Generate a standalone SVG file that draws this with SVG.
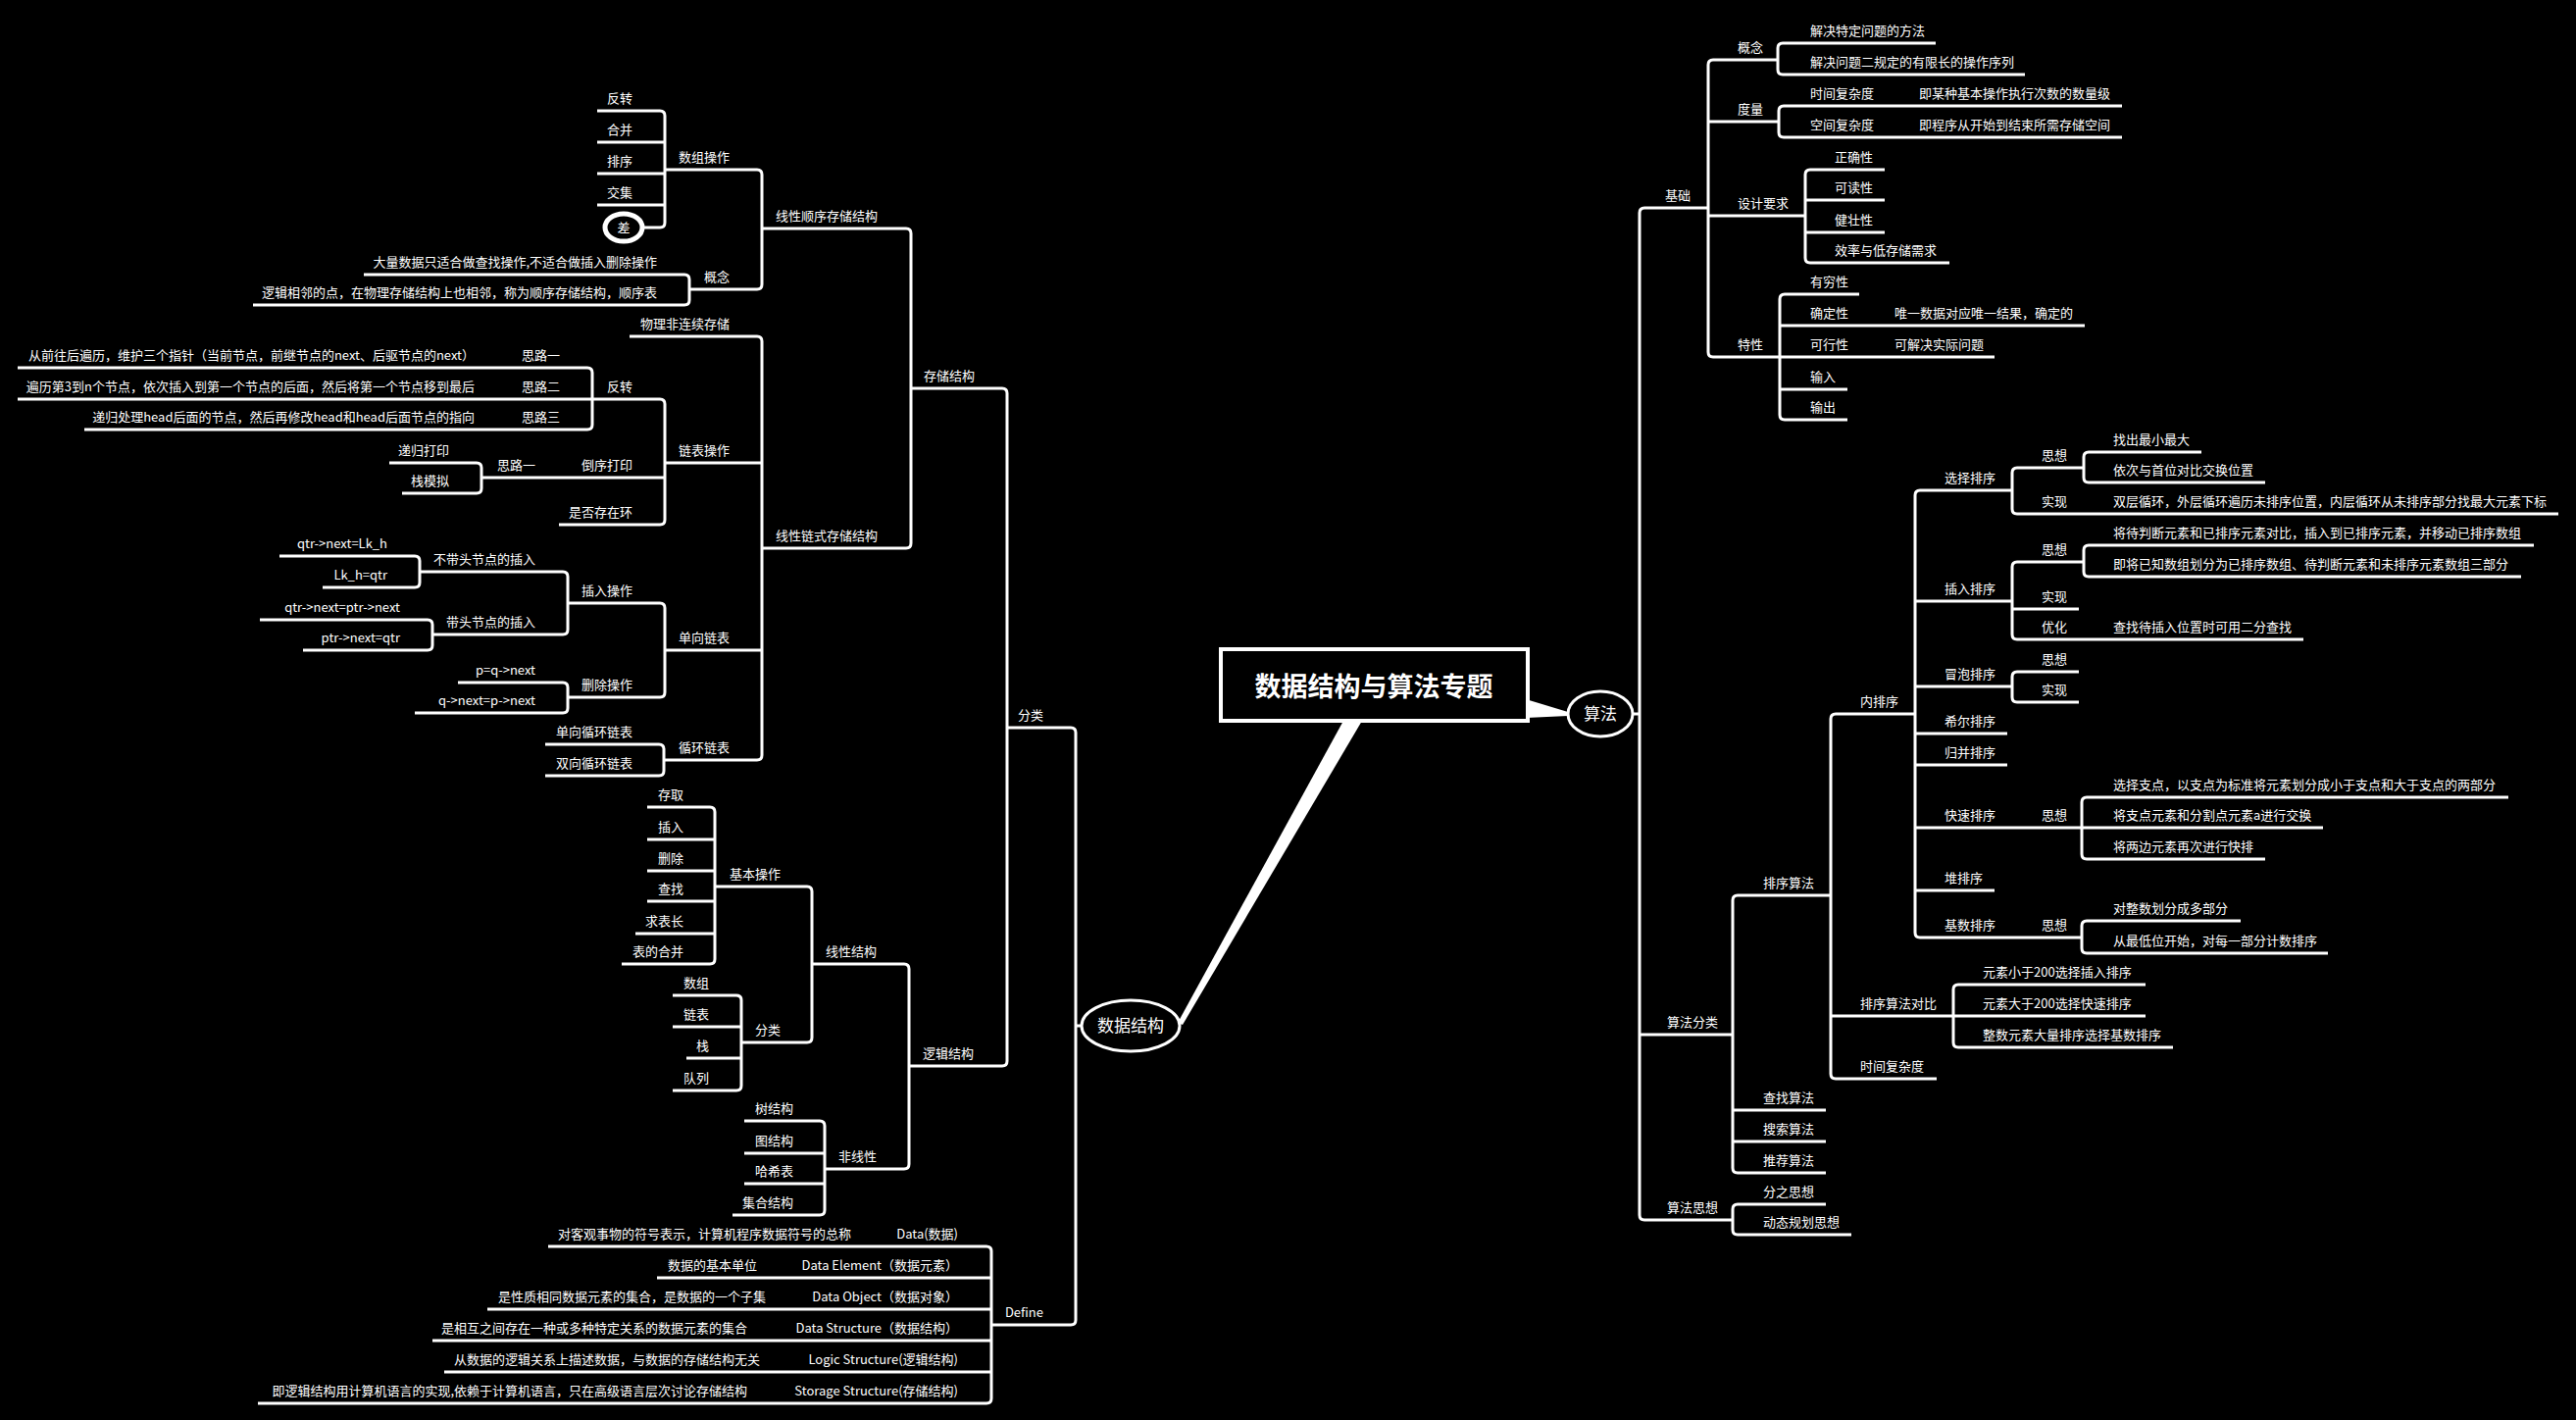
<svg xmlns="http://www.w3.org/2000/svg" width="2627" height="1448" viewBox="0 0 2627 1448">
<style>
text{font-family:"Noto Sans CJK SC","Noto Sans",sans-serif;font-size:13px;fill:#fff}
.l{text-anchor:end}
.r{text-anchor:start}
.c{text-anchor:middle}
.ln{fill:none;stroke:#fff;stroke-width:3}
.wedge{fill:#fff;stroke:none}
.title{font-size:27px;font-weight:bold}
.big{font-size:17px}
.oval{fill:#000;stroke:#fff;stroke-width:3}
</style>
<rect width="2627" height="1448" fill="#000"/>
<g id="connectors">
<polygon class="wedge" points="1556,713 1599,726 1599,730 1556,732"/>
<polygon class="wedge" points="1370,735 1389,735 1206,1045 1201,1043"/>
<path class="ln" d="M1097,1046 H1104"/>
<path class="ln" d="M1027,742 H1092 Q1097,742 1097,747 V1346 Q1097,1351 1092,1351 H1011"/>
<path class="ln" d="M929,396 H1022 Q1027,396 1027,401 V1082 Q1027,1087 1022,1087 H927"/>
<path class="ln" d="M777,233 H924 Q929,233 929,238 V554 Q929,559 924,559 H777"/>
<path class="ln" d="M828,983 H922 Q927,983 927,988 V1187 Q927,1192 922,1192 H841"/>
<path class="ln" d="M678,173 H772 Q777,173 777,178 V290 Q777,295 772,295 H703"/>
<path class="ln" d="M609,113 H673 Q678,113 678,118 V227 Q678,232 673,232 H656"/>
<path class="ln" d="M609,145 H678 M609,177 H678 M609,209 H678"/>
<path class="ln" d="M371,280 H698 Q703,280 703,285 V306 Q703,311 698,311 H258"/>
<path class="ln" d="M642,343 H772 Q777,343 777,348 V770 Q777,775 772,775 H678"/>
<path class="ln" d="M678,472 H777 M678,663 H777"/>
<path class="ln" d="M604,407 H673 Q678,407 678,412 V530 Q678,535 673,535 H570"/>
<path class="ln" d="M491,487 H678"/>
<path class="ln" d="M18,375 H599 Q604,375 604,380 V433 Q604,438 599,438 H86"/>
<path class="ln" d="M18,407 H604"/>
<path class="ln" d="M397,472 H486 Q491,472 491,477 V498 Q491,503 486,503 H410"/>
<path class="ln" d="M579,615 H673 Q678,615 678,620 V706 Q678,711 673,711 H579"/>
<path class="ln" d="M428,583 H574 Q579,583 579,588 V642 Q579,647 574,647 H441"/>
<path class="ln" d="M285,567 H423 Q428,567 428,572 V594 Q428,599 423,599 H329"/>
<path class="ln" d="M265,632 H436 Q441,632 441,637 V658 Q441,663 436,663 H309"/>
<path class="ln" d="M467,696 H574 Q579,696 579,701 V722 Q579,727 574,727 H423"/>
<path class="ln" d="M556,759 H672 Q677,759 677,764 V786 Q677,791 672,791 H556"/>
<path class="ln" d="M729,904 H823 Q828,904 828,909 V1058 Q828,1063 823,1063 H756"/>
<path class="ln" d="M660,823 H724 Q729,823 729,828 V978 Q729,983 724,983 H634"/>
<path class="ln" d="M660,856 H729 M660,888 H729 M660,919 H729 M648,952 H729"/>
<path class="ln" d="M686,1015 H751 Q756,1015 756,1020 V1107 Q756,1112 751,1112 H686"/>
<path class="ln" d="M686,1047 H756 M700,1079 H756"/>
<path class="ln" d="M759,1143 H836 Q841,1143 841,1148 V1234 Q841,1239 836,1239 H747"/>
<path class="ln" d="M759,1176 H841 M759,1207 H841"/>
<path class="ln" d="M559,1271 H1006 Q1011,1271 1011,1276 V1426 Q1011,1431 1006,1431 H263"/>
<path class="ln" d="M670,1303 H1011 M497,1335 H1011 M441,1367 H1011 M453,1399 H1011"/>
<path class="ln" d="M1665,728 H1672"/>
<path class="ln" d="M1742,212 H1677 Q1672,212 1672,217 V1239 Q1672,1244 1677,1244 H1767"/>
<path class="ln" d="M1672,1055 H1767"/>
<path class="ln" d="M1813,61 H1747 Q1742,61 1742,66 V359 Q1742,364 1747,364 H1815"/>
<path class="ln" d="M1742,124 H1814 M1742,220 H1841"/>
<path class="ln" d="M1974,44 H1818 Q1813,44 1813,49 V71 Q1813,76 1818,76 H2065"/>
<path class="ln" d="M2164,108 H1819 Q1814,108 1814,113 V135 Q1814,140 1819,140 H2164"/>
<path class="ln" d="M1922,173 H1846 Q1841,173 1841,178 V263 Q1841,268 1846,268 H1988"/>
<path class="ln" d="M1841,204 H1922 M1841,237 H1922"/>
<path class="ln" d="M1896,300 H1820 Q1815,300 1815,305 V423 Q1815,428 1820,428 H1884"/>
<path class="ln" d="M1815,332 H2126 M1815,364 H2034 M1815,397 H1884"/>
<path class="ln" d="M1867,913 H1772 Q1767,913 1767,918 V1191 Q1767,1196 1772,1196 H1862"/>
<path class="ln" d="M1767,1132 H1862 M1767,1164 H1862"/>
<path class="ln" d="M1862,1228 H1772 Q1767,1228 1767,1233 V1254 Q1767,1259 1772,1259 H1888"/>
<path class="ln" d="M1953,728 H1872 Q1867,728 1867,733 V1095 Q1867,1100 1872,1100 H1975"/>
<path class="ln" d="M1867,1036 H1992"/>
<path class="ln" d="M2052,500 H1958 Q1953,500 1953,505 V951 Q1953,956 1958,956 H2123"/>
<path class="ln" d="M1953,613 H2052 M1953,700 H2052 M1953,748 H2047 M1953,780 H2047 M1953,844 H2123 M1953,908 H2034"/>
<path class="ln" d="M2125,477 H2057 Q2052,477 2052,482 V519 Q2052,524 2057,524 H2609"/>
<path class="ln" d="M2245,461 H2130 Q2125,461 2125,466 V487 Q2125,492 2130,492 H2310"/>
<path class="ln" d="M2125,573 H2057 Q2052,573 2052,578 V647 Q2052,652 2057,652 H2349"/>
<path class="ln" d="M2052,621 H2120"/>
<path class="ln" d="M2584,556 H2130 Q2125,556 2125,561 V583 Q2125,588 2130,588 H2571"/>
<path class="ln" d="M2120,685 H2057 Q2052,685 2052,690 V711 Q2052,716 2057,716 H2120"/>
<path class="ln" d="M2558,813 H2128 Q2123,813 2123,818 V871 Q2123,876 2128,876 H2310"/>
<path class="ln" d="M2123,844 H2369"/>
<path class="ln" d="M2285,939 H2128 Q2123,939 2123,944 V967 Q2123,972 2128,972 H2374"/>
<path class="ln" d="M2188,1004 H1997 Q1992,1004 1992,1009 V1063 Q1992,1068 1997,1068 H2216"/>
<path class="ln" d="M1992,1036 H2188"/>
</g>
<g id="root"><rect x="1245" y="662" width="313" height="73" fill="#000" stroke="#fff" stroke-width="4"/><text class="c title" x="1401" y="710">数据结构与算法专题</text></g>
<g id="n-ds"><ellipse class="oval" cx="1153" cy="1046" rx="50" ry="26"/><text class="c big" x="1153" y="1052">数据结构</text></g>
<g id="n-alg"><ellipse class="oval" cx="1632" cy="728" rx="33" ry="23"/><text class="c big" x="1632" y="734">算法</text></g>
<g id="n-fl"><text class="l" x="1064" y="734">分类</text></g>
<g id="n-def"><text class="l" x="1064" y="1343">Define</text></g>
<g id="n-ccjg"><text class="l" x="994" y="388">存储结构</text></g>
<g id="n-ljjg"><text class="l" x="993" y="1079">逻辑结构</text></g>
<g id="n-xxsx"><text class="l" x="895" y="225">线性顺序存储结构</text></g>
<g id="n-xxls"><text class="l" x="895" y="551">线性链式存储结构</text></g>
<g id="n-szcz"><text class="l" x="744" y="165">数组操作</text></g>
<g id="n-gn1"><text class="l" x="744" y="287">概念</text></g>
<g id="n-fz1"><text class="l" x="645" y="105">反转</text></g>
<g id="n-hb"><text class="l" x="645" y="137">合并</text></g>
<g id="n-px"><text class="l" x="645" y="169">排序</text></g>
<g id="n-jj"><text class="l" x="645" y="201">交集</text></g>
<g id="n-cha"><ellipse cx="636" cy="232" rx="19" ry="14" fill="#000" stroke="#fff" stroke-width="5"/><text class="c" x="636" y="237">差</text></g>
<g id="n-gn1a"><text class="l" x="670" y="272">大量数据只适合做查找操作,不适合做插入删除操作</text></g>
<g id="n-gn1b"><text class="l" x="670" y="303">逻辑相邻的点，在物理存储结构上也相邻，称为顺序存储结构，顺序表</text></g>
<g id="n-wlflx"><text class="l" x="744" y="335">物理非连续存储</text></g>
<g id="n-lbcz"><text class="l" x="744" y="464">链表操作</text></g>
<g id="n-dxlb"><text class="l" x="744" y="655">单向链表</text></g>
<g id="n-xhlb"><text class="l" x="744" y="767">循环链表</text></g>
<g id="n-fz2"><text class="l" x="645" y="399">反转</text></g>
<g id="n-dxdy"><text class="l" x="645" y="479">倒序打印</text></g>
<g id="n-sfczh"><text class="l" x="645" y="527">是否存在环</text></g>
<g id="n-sl1"><text class="l" x="571" y="367">思路一</text></g>
<g id="n-sl2"><text class="l" x="571" y="399">思路二</text></g>
<g id="n-sl3"><text class="l" x="571" y="430">思路三</text></g>
<g id="n-sl1a"><text class="l" x="484" y="367">从前往后遍历，维护三个指针（当前节点，前继节点的next、后驱节点的next）</text></g>
<g id="n-sl2a"><text class="l" x="484" y="399">遍历第3到n个节点，依次插入到第一个节点的后面，然后将第一个节点移到最后</text></g>
<g id="n-sl3a"><text class="l" x="484" y="430">递归处理head后面的节点，然后再修改head和head后面节点的指向</text></g>
<g id="n-sl1b"><text class="l" x="546" y="479">思路一</text></g>
<g id="n-dgdy"><text class="l" x="458" y="464">递归打印</text></g>
<g id="n-zmn"><text class="l" x="458" y="495">栈模拟</text></g>
<g id="n-crcz"><text class="l" x="645" y="607">插入操作</text></g>
<g id="n-sccz"><text class="l" x="645" y="703">删除操作</text></g>
<g id="n-bdt"><text class="l" x="546" y="575">不带头节点的插入</text></g>
<g id="n-dt"><text class="l" x="546" y="639">带头节点的插入</text></g>
<g id="n-c1"><text class="l" x="395" y="559">qtr-&gt;next=Lk_h</text></g>
<g id="n-c2"><text class="l" x="395" y="591">Lk_h=qtr</text></g>
<g id="n-c3"><text class="l" x="408" y="624">qtr-&gt;next=ptr-&gt;next</text></g>
<g id="n-c4"><text class="l" x="408" y="655">ptr-&gt;next=qtr</text></g>
<g id="n-c5"><text class="l" x="546" y="688">p=q-&gt;next</text></g>
<g id="n-c6"><text class="l" x="546" y="719">q-&gt;next=p-&gt;next</text></g>
<g id="n-dxxh"><text class="l" x="645" y="751">单向循环链表</text></g>
<g id="n-sxxh"><text class="l" x="645" y="783">双向循环链表</text></g>
<g id="n-xxjg"><text class="l" x="894" y="975">线性结构</text></g>
<g id="n-fxx"><text class="l" x="894" y="1184">非线性</text></g>
<g id="n-jbcz"><text class="l" x="796" y="896">基本操作</text></g>
<g id="n-fl2"><text class="l" x="796" y="1055">分类</text></g>
<g id="n-cq"><text class="l" x="697" y="815">存取</text></g>
<g id="n-cr"><text class="l" x="697" y="848">插入</text></g>
<g id="n-sc"><text class="l" x="697" y="880">删除</text></g>
<g id="n-cz"><text class="l" x="697" y="911">查找</text></g>
<g id="n-qbc"><text class="l" x="697" y="944">求表长</text></g>
<g id="n-bdhb"><text class="l" x="697" y="975">表的合并</text></g>
<g id="n-sz"><text class="l" x="723" y="1007">数组</text></g>
<g id="n-lb"><text class="l" x="723" y="1039">链表</text></g>
<g id="n-z"><text class="l" x="723" y="1071">栈</text></g>
<g id="n-dl"><text class="l" x="723" y="1104">队列</text></g>
<g id="n-sjg"><text class="l" x="809" y="1135">树结构</text></g>
<g id="n-tjg"><text class="l" x="809" y="1168">图结构</text></g>
<g id="n-hxb"><text class="l" x="809" y="1199">哈希表</text></g>
<g id="n-jhjg"><text class="l" x="809" y="1231">集合结构</text></g>
<g id="n-d1"><text class="l" x="977" y="1263">Data(数据)</text></g>
<g id="n-d1a"><text class="l" x="868" y="1263">对客观事物的符号表示，计算机程序数据符号的总称</text></g>
<g id="n-d2"><text class="l" x="977" y="1295">Data Element（数据元素）</text></g>
<g id="n-d2a"><text class="l" x="772" y="1295">数据的基本单位</text></g>
<g id="n-d3"><text class="l" x="977" y="1327">Data Object（数据对象）</text></g>
<g id="n-d3a"><text class="l" x="781" y="1327">是性质相同数据元素的集合，是数据的一个子集</text></g>
<g id="n-d4"><text class="l" x="977" y="1359">Data Structure（数据结构）</text></g>
<g id="n-d4a"><text class="l" x="762" y="1359">是相互之间存在一种或多种特定关系的数据元素的集合</text></g>
<g id="n-d5"><text class="l" x="977" y="1391">Logic Structure(逻辑结构)</text></g>
<g id="n-d5a"><text class="l" x="775" y="1391">从数据的逻辑关系上描述数据，与数据的存储结构无关</text></g>
<g id="n-d6"><text class="l" x="977" y="1423">Storage Structure(存储结构)</text></g>
<g id="n-d6a"><text class="l" x="762" y="1423">即逻辑结构用计算机语言的实现,依赖于计算机语言，只在高级语言层次讨论存储结构</text></g>
<g id="n-jc"><text class="r" x="1698" y="204">基础</text></g>
<g id="n-suanfl"><text class="r" x="1700" y="1047">算法分类</text></g>
<g id="n-sfsx"><text class="r" x="1700" y="1236">算法思想</text></g>
<g id="n-gn2"><text class="r" x="1772" y="53">概念</text></g>
<g id="n-dl2"><text class="r" x="1772" y="116">度量</text></g>
<g id="n-sjyq"><text class="r" x="1772" y="212">设计要求</text></g>
<g id="n-tx"><text class="r" x="1772" y="356">特性</text></g>
<g id="n-gn2a"><text class="r" x="1846" y="36">解决特定问题的方法</text></g>
<g id="n-gn2b"><text class="r" x="1846" y="68">解决问题二规定的有限长的操作序列</text></g>
<g id="n-sjfzd"><text class="r" x="1846" y="100">时间复杂度</text></g>
<g id="n-sjfzda"><text class="r" x="1957" y="100">即某种基本操作执行次数的数量级</text></g>
<g id="n-kjfzd"><text class="r" x="1846" y="132">空间复杂度</text></g>
<g id="n-kjfzda"><text class="r" x="1957" y="132">即程序从开始到结束所需存储空间</text></g>
<g id="n-zqx"><text class="r" x="1871" y="165">正确性</text></g>
<g id="n-kdx"><text class="r" x="1871" y="196">可读性</text></g>
<g id="n-jzx"><text class="r" x="1871" y="229">健壮性</text></g>
<g id="n-xl"><text class="r" x="1871" y="260">效率与低存储需求</text></g>
<g id="n-yqx"><text class="r" x="1846" y="292">有穷性</text></g>
<g id="n-qdx"><text class="r" x="1846" y="324">确定性</text></g>
<g id="n-qdxa"><text class="r" x="1932" y="324">唯一数据对应唯一结果，确定的</text></g>
<g id="n-kxx"><text class="r" x="1846" y="356">可行性</text></g>
<g id="n-kxxa"><text class="r" x="1932" y="356">可解决实际问题</text></g>
<g id="n-sr"><text class="r" x="1846" y="389">输入</text></g>
<g id="n-sc2"><text class="r" x="1846" y="420">输出</text></g>
<g id="n-pxsf"><text class="r" x="1798" y="905">排序算法</text></g>
<g id="n-czsf"><text class="r" x="1798" y="1124">查找算法</text></g>
<g id="n-sssf"><text class="r" x="1798" y="1156">搜索算法</text></g>
<g id="n-tjsf"><text class="r" x="1798" y="1188">推荐算法</text></g>
<g id="n-fzsx"><text class="r" x="1798" y="1220">分之思想</text></g>
<g id="n-dtgh"><text class="r" x="1798" y="1251">动态规划思想</text></g>
<g id="n-npx"><text class="r" x="1897" y="720">内排序</text></g>
<g id="n-pxdb"><text class="r" x="1897" y="1028">排序算法对比</text></g>
<g id="n-sjfzd2"><text class="r" x="1897" y="1092">时间复杂度</text></g>
<g id="n-xzpx"><text class="r" x="1983" y="492">选择排序</text></g>
<g id="n-crpx"><text class="r" x="1983" y="605">插入排序</text></g>
<g id="n-mppx"><text class="r" x="1983" y="692">冒泡排序</text></g>
<g id="n-xepx"><text class="r" x="1983" y="740">希尔排序</text></g>
<g id="n-gbpx"><text class="r" x="1983" y="772">归并排序</text></g>
<g id="n-kspx"><text class="r" x="1983" y="836">快速排序</text></g>
<g id="n-kssx"><text class="r" x="2082" y="836">思想</text></g>
<g id="n-dpx"><text class="r" x="1983" y="900">堆排序</text></g>
<g id="n-jspx"><text class="r" x="1983" y="948">基数排序</text></g>
<g id="n-jssx"><text class="r" x="2082" y="948">思想</text></g>
<g id="n-xzsx"><text class="r" x="2082" y="469">思想</text></g>
<g id="n-xzsxa"><text class="r" x="2155" y="453">找出最小最大</text></g>
<g id="n-xzsxb"><text class="r" x="2155" y="484">依次与首位对比交换位置</text></g>
<g id="n-xzsj"><text class="r" x="2082" y="516">实现</text></g>
<g id="n-xzsja"><text class="r" x="2155" y="516">双层循环，外层循环遍历未排序位置，内层循环从未排序部分找最大元素下标</text></g>
<g id="n-crsx"><text class="r" x="2082" y="565">思想</text></g>
<g id="n-crsxa"><text class="r" x="2155" y="548">将待判断元素和已排序元素对比，插入到已排序元素，并移动已排序数组</text></g>
<g id="n-crsxb"><text class="r" x="2155" y="580">即将已知数组划分为已排序数组、待判断元素和未排序元素数组三部分</text></g>
<g id="n-crsj"><text class="r" x="2082" y="613">实现</text></g>
<g id="n-cryh"><text class="r" x="2082" y="644">优化</text></g>
<g id="n-cryha"><text class="r" x="2155" y="644">查找待插入位置时可用二分查找</text></g>
<g id="n-mpsx"><text class="r" x="2082" y="677">思想</text></g>
<g id="n-mpsj"><text class="r" x="2082" y="708">实现</text></g>
<g id="n-kssxa"><text class="r" x="2155" y="805">选择支点，以支点为标准将元素划分成小于支点和大于支点的两部分</text></g>
<g id="n-kssxb"><text class="r" x="2155" y="836">将支点元素和分割点元素a进行交换</text></g>
<g id="n-kssxc"><text class="r" x="2155" y="868">将两边元素再次进行快排</text></g>
<g id="n-jssxa"><text class="r" x="2155" y="931">对整数划分成多部分</text></g>
<g id="n-jssxb"><text class="r" x="2155" y="964">从最低位开始，对每一部分计数排序</text></g>
<g id="n-db1"><text class="r" x="2022" y="996">元素小于200选择插入排序</text></g>
<g id="n-db2"><text class="r" x="2022" y="1028">元素大于200选择快速排序</text></g>
<g id="n-db3"><text class="r" x="2022" y="1060">整数元素大量排序选择基数排序</text></g>
</svg>
